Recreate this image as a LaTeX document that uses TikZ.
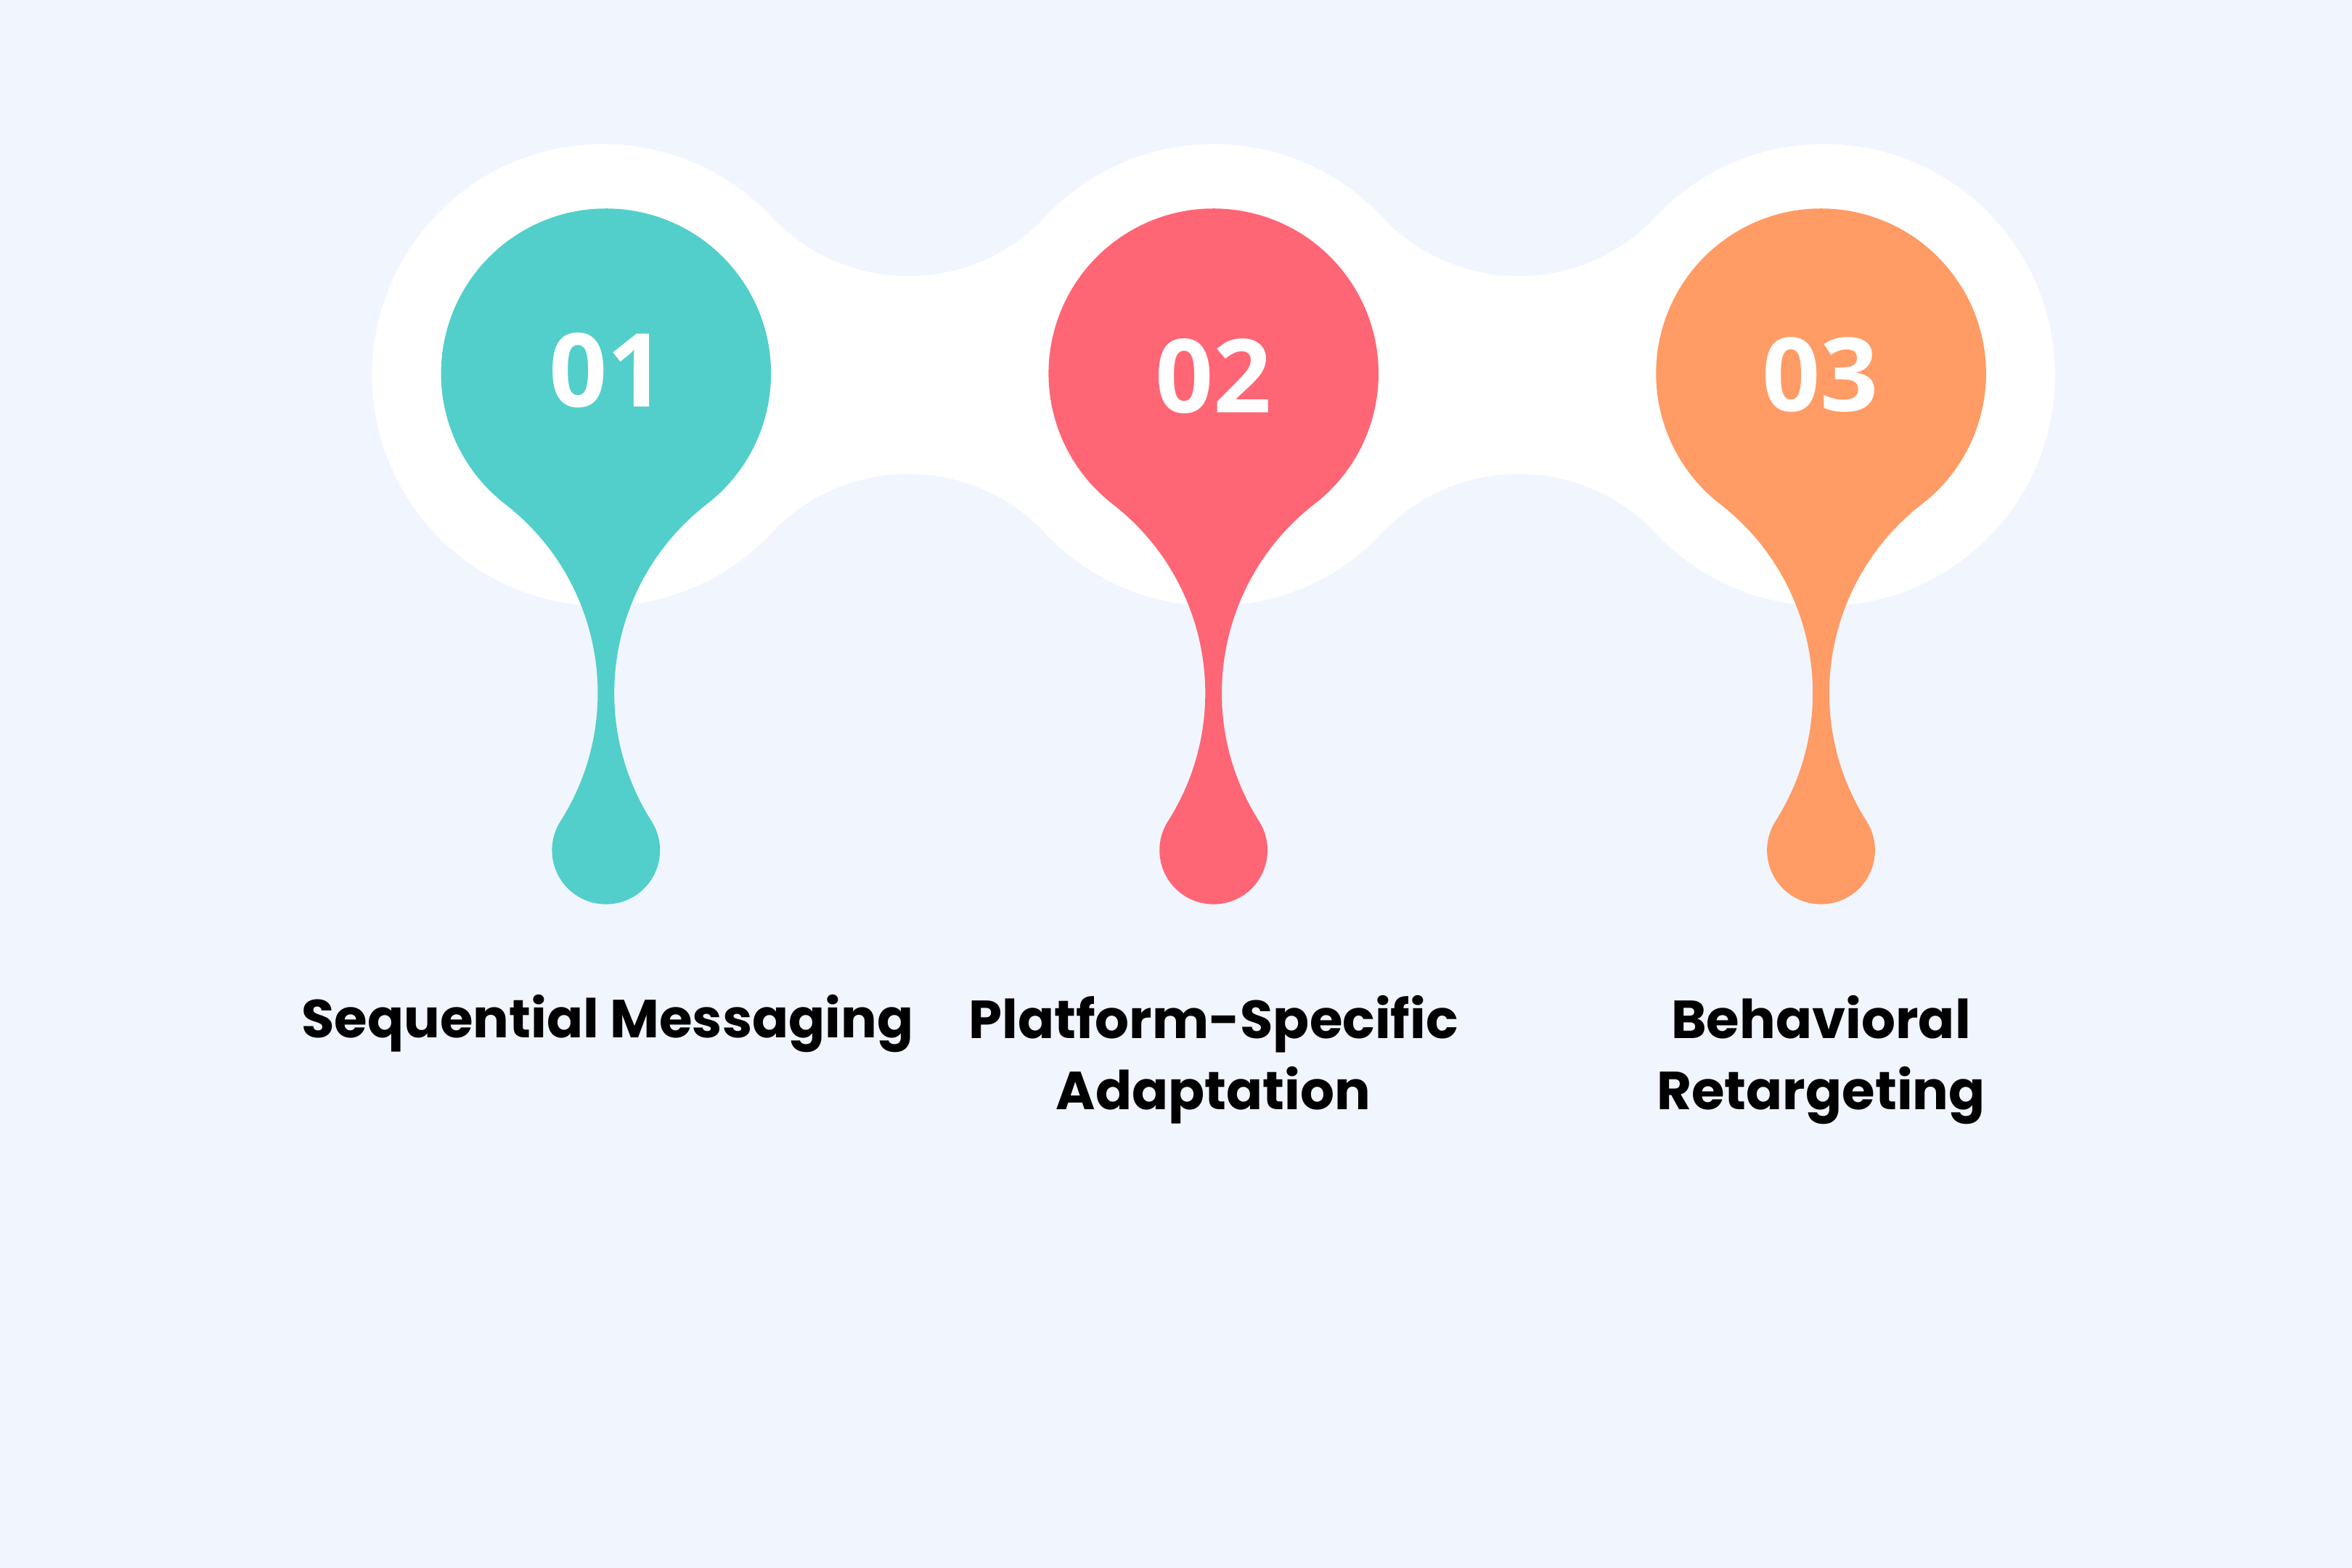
\documentclass[tikz,border=0pt]{standalone}
\usepackage{fontspec}
\setmainfont{Poppins}
\newfontfamily\numfont{Open Sans}
\definecolor{bgc}{HTML}{F0F5FE}
\definecolor{dropA}{HTML}{52CFCA}
\definecolor{dropB}{HTML}{FE6675}
\definecolor{dropC}{HTML}{FF9B64}
\tikzset{
  numlabel/.style={text=white, inner sep=0pt, font=\numfont\bfseries\fontsize{40}{40}\selectfont},
  steplabel/.style={text=black, inner sep=0pt, align=center, anchor=base, font=\bfseries\fontsize{21}{27.8}\selectfont},
}
\begin{document}
\begin{tikzpicture}[x=0.020663cm,y=0.020663cm]
\fill[bgc] (0,0) rectangle (1568,-1045.3);
\useasboundingbox (0,0) rectangle (1568,-1045.3);
% white band
\fill[white] (402,-144.5) rectangle (1216,-355.5);
\foreach \mx in {605.5,1012.5}{
  \fill[bgc] (\mx,-58.7) circle[radius=125.3];
  \fill[bgc] (\mx,-441.3) circle[radius=125.3];
}
\foreach \bx in {402,809,1216}{
  \fill[white] (\bx,-250) circle[radius=154];
}
% drops
\foreach \cx/\col in {404/dropA,809/dropB,1214/dropC}{
  \begin{scope}[shift={(\cx,-249)}]
    \fill[\col] (-67.32,-87) arc[start angle=52.27,end angle=-32.45,radius=159.33]
      arc[start angle=147.54,end angle=392.46,radius=36]
      arc[start angle=212.45,end angle=127.73,radius=159.33]
      arc[start angle=-52.27,end angle=232.27,radius=110] -- cycle;
  \end{scope}
}
\node[numlabel] (n1) at (405,-247) {01};
\node[numlabel] (n2) at (809,-251) {02};
\node[numlabel] (n3) at (1213.5,-250) {03};
\node[steplabel] (l1) at (405,-692) {Sequential Messaging};
\node[steplabel] (l2) at (809,-739.5) {Platform-Specific\\Adaptation};
\node[steplabel] (l3) at (1214,-739.5) {Behavioral\\Retargeting};
\end{tikzpicture}
\end{document}
